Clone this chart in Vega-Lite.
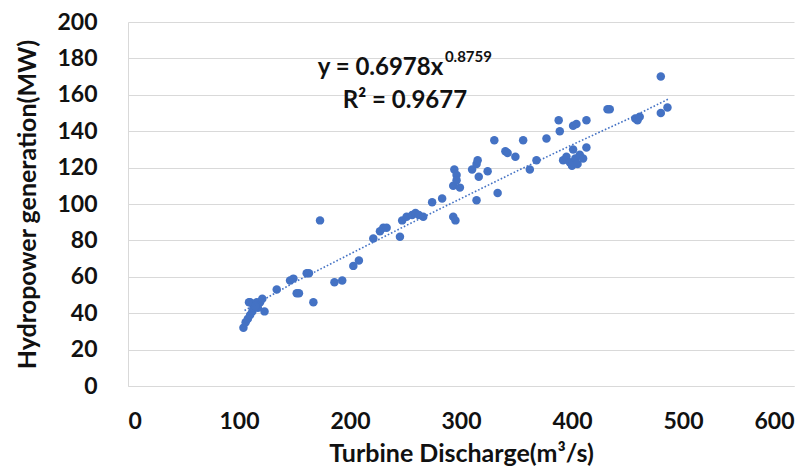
{
  "$schema": "https://vega.github.io/schema/vega-lite/v6.json",
  "autosize": {"type": "none"},
  "width": 666,
  "height": 364,
  "padding": {"left": 128, "top": 22, "right": 16, "bottom": 89},
  "background": "white",
  "config": {
    "view": {"stroke": null},
    "font": "Lato"
  },
  "datasets": {
    "pts": [
      {"q": 104, "p": 32}, {"q": 106, "p": 35}, {"q": 108, "p": 37}, {"q": 110, "p": 39},
      {"q": 112, "p": 41}, {"q": 113, "p": 43}, {"q": 117, "p": 43}, {"q": 119, "p": 46},
      {"q": 110, "p": 46}, {"q": 109, "p": 46}, {"q": 116, "p": 46}, {"q": 121, "p": 48},
      {"q": 123, "p": 41}, {"q": 115, "p": 44}, {"q": 134, "p": 53}, {"q": 146, "p": 58},
      {"q": 149, "p": 59}, {"q": 152, "p": 51}, {"q": 154, "p": 51}, {"q": 161, "p": 62},
      {"q": 163, "p": 62}, {"q": 167, "p": 46}, {"q": 173, "p": 91}, {"q": 186, "p": 57},
      {"q": 193, "p": 58}, {"q": 203, "p": 66}, {"q": 208, "p": 69}, {"q": 221, "p": 81},
      {"q": 227, "p": 85}, {"q": 230, "p": 87}, {"q": 233, "p": 87}, {"q": 245, "p": 82},
      {"q": 247, "p": 91}, {"q": 251, "p": 93}, {"q": 256, "p": 94}, {"q": 259, "p": 95},
      {"q": 262, "p": 94}, {"q": 266, "p": 93}, {"q": 274, "p": 101}, {"q": 283, "p": 103},
      {"q": 293, "p": 93}, {"q": 295, "p": 91}, {"q": 294, "p": 119}, {"q": 296, "p": 116},
      {"q": 293, "p": 110}, {"q": 299, "p": 109}, {"q": 296, "p": 113}, {"q": 310, "p": 119},
      {"q": 314, "p": 122}, {"q": 315, "p": 124}, {"q": 316, "p": 115}, {"q": 314, "p": 102},
      {"q": 324, "p": 118}, {"q": 330, "p": 135}, {"q": 333, "p": 106}, {"q": 340, "p": 129},
      {"q": 342, "p": 128}, {"q": 349, "p": 126}, {"q": 356, "p": 135}, {"q": 362, "p": 119},
      {"q": 368, "p": 124}, {"q": 377, "p": 136}, {"q": 388, "p": 146}, {"q": 389, "p": 140},
      {"q": 392, "p": 124}, {"q": 395, "p": 126}, {"q": 398, "p": 123}, {"q": 400, "p": 121},
      {"q": 401, "p": 130}, {"q": 403, "p": 125}, {"q": 405, "p": 122}, {"q": 407, "p": 127},
      {"q": 410, "p": 125}, {"q": 413, "p": 131}, {"q": 401, "p": 143}, {"q": 404, "p": 144},
      {"q": 413, "p": 146}, {"q": 432, "p": 152}, {"q": 434, "p": 152}, {"q": 457, "p": 147},
      {"q": 459, "p": 146}, {"q": 461, "p": 148}, {"q": 480, "p": 170}, {"q": 480, "p": 150},
      {"q": 486, "p": 153}
    ],
    "trend": [
      {"q": 105, "p": 41.5}, {"q": 150, "p": 57}, {"q": 200, "p": 72.5}, {"q": 250, "p": 88},
      {"q": 300, "p": 103}, {"q": 350, "p": 118}, {"q": 400, "p": 132.5}, {"q": 450, "p": 146.5},
      {"q": 488, "p": 158}
    ],
    "ann": [
      {"q": 284, "p": 174.7, "t": "y = 0.6978x", "k": "eq"},
      {"q": 285.5, "p": 180.8, "t": "0.8759", "k": "exp"},
      {"q": 249.5, "p": 156.6, "t": "R² = 0.9677", "k": "r2"}
    ]
  },
  "encoding": {
    "x": {
      "field": "q", "type": "quantitative",
      "scale": {"domain": [0, 600], "nice": false},
      "axis": {
        "title": "Turbine Discharge(m³/s)",
        "values": [0, 100, 200, 300, 400, 500, 600],
        "labelOverlap": false,
        "grid": false,
        "ticks": false,
        "domainColor": "#d9d9d9",
        "labelFont": "Lato", "labelFontSize": 23, "labelFontWeight": "bold", "labelColor": "#111111",
        "labelPadding": 24,
        "titleFont": "Lato", "titleFontSize": 25, "titleFontWeight": "bold", "titleColor": "#111111",
        "titlePadding": 8
      }
    },
    "y": {
      "field": "p", "type": "quantitative",
      "scale": {"domain": [0, 200], "nice": false},
      "axis": {
        "title": "Hydropower generation(MW)",
        "values": [0, 20, 40, 60, 80, 100, 120, 140, 160, 180, 200],
        "labelOverlap": false,
        "grid": true,
        "gridColor": "#d9d9d9",
        "gridWidth": 1,
        "ticks": false,
        "domainColor": "#d9d9d9",
        "labelFont": "Lato", "labelFontSize": 23, "labelFontWeight": "bold", "labelColor": "#111111",
        "labelPadding": 31,
        "titleFont": "Lato", "titleFontSize": 25, "titleFontWeight": "bold", "titleColor": "#111111",
        "titlePadding": 16
      }
    }
  },
  "layer": [
    {
      "data": {"name": "pts"},
      "mark": {"type": "circle", "size": 72, "color": "#4472C4", "opacity": 1}
    },
    {
      "data": {"name": "trend"},
      "mark": {"type": "line", "color": "#4472C4", "strokeWidth": 1.6, "strokeDash": [1.6, 2]}
    },
    {
      "data": {"name": "ann"},
      "transform": [{"filter": "datum.k === 'eq'"}],
      "mark": {"type": "text", "fontSize": 24, "fontWeight": "bold", "font": "Lato", "color": "#111111", "align": "right", "baseline": "middle"},
      "encoding": {"text": {"field": "t"}}
    },
    {
      "data": {"name": "ann"},
      "transform": [{"filter": "datum.k === 'r2'"}],
      "mark": {"type": "text", "fontSize": 24, "fontWeight": "bold", "font": "Lato", "color": "#111111", "align": "center", "baseline": "middle"},
      "encoding": {"text": {"field": "t"}}
    },
    {
      "data": {"name": "ann"},
      "transform": [{"filter": "datum.k === 'exp'"}],
      "mark": {"type": "text", "fontSize": 15, "fontWeight": "bold", "font": "Lato", "color": "#111111", "align": "left", "baseline": "middle"},
      "encoding": {"text": {"field": "t"}}
    }
  ]
}
